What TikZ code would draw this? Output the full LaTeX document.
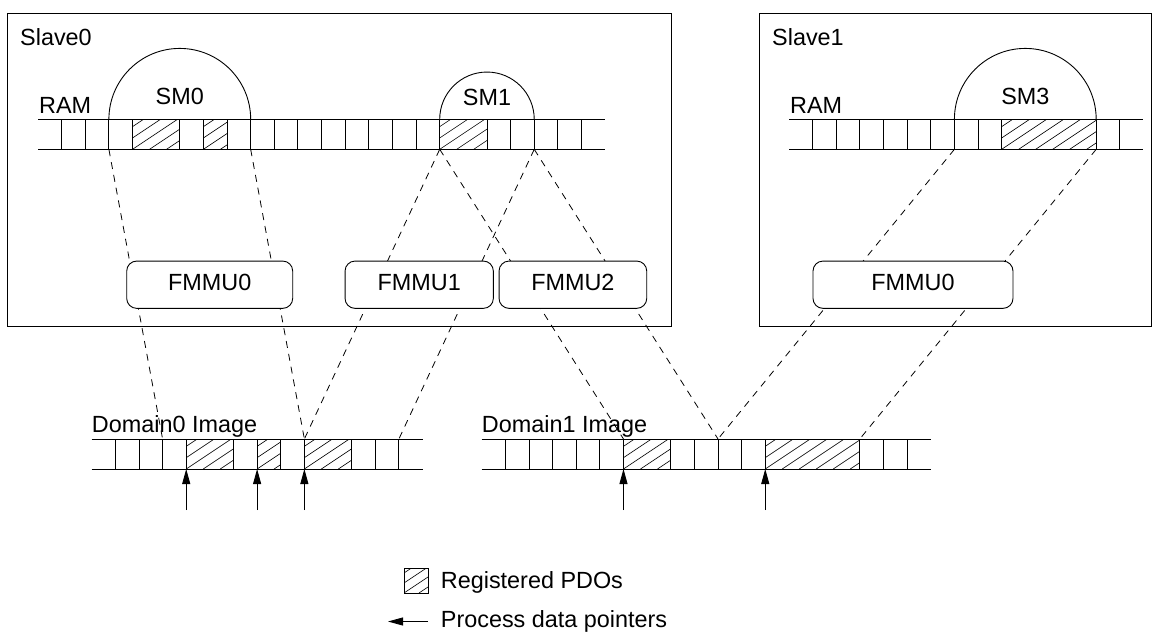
\documentclass[tikz,border=0pt]{standalone}
\usepackage{fontspec}
\setmainfont{Liberation Sans}
\usetikzlibrary{arrows.meta,calc}

% cell width and row height (1pt = one unit)
\pgfmathsetmacro\cw{23.63}
\def\rowh{30}
\pgfmathsetmacro\rbig{3*\cw}
\pgfmathsetmacro\rsmall{2*\cw}

% a row of memory cells: name, left x, top y, number of cells;
% defines coordinates <name>-<k>-t / <name>-<k>-b at every cell boundary
\newcommand\cellrow[4]{%
  \pgfmathtruncatemacro\lastk{#4-1}%
  \foreach \k in {0,...,#4}{%
    \coordinate (#1-\k-t) at ({#2+\k*\cw},#3);
    \coordinate (#1-\k-b) at ({#2+\k*\cw},{#3+\rowh});
  }%
  \draw[rowline] (#1-0-t) -- (#1-#4-t);
  \draw[rowline] (#1-0-b) -- (#1-#4-b);
  \foreach \k in {1,...,\lastk}{\draw[rowline] (#1-\k-t) -- (#1-\k-b);}%
}

% one hatched block spanning the cells between two boundaries of a row
\newcommand\hatchcells[3]{%
  \fill[white] (#1-#2-t) rectangle (#1-#3-b);
  \begin{scope}
    \clip (#1-#2-t) rectangle (#1-#3-b);
    \foreach \s in {-4,...,9}{\draw[hatchline] ($(#1-#2-b)+(\s*17,0)$) -- ++(60,-40);}
  \end{scope}%
  \draw[rowline] (#1-#2-t) rectangle (#1-#3-b);
}

\begin{document}
\begin{tikzpicture}[x=1pt,y=-1pt,
  font=\fontsize{23.4}{28}\selectfont,
  rowline/.style={line width=0.9pt},
  hatchline/.style={line width=0.6pt},
  frame/.style={line width=1pt},
  mapline/.style={line width=0.8pt, dash pattern=on 7pt off 6pt},
  fmmu/.style={draw, line width=0.9pt, rounded corners=10pt, fill=white,
    minimum height=47.3pt, text depth=4.8pt, inner sep=0pt},
  ptr/.style={line width=0.9pt, -{Triangle[length=15pt,width=8pt]}},
  lbl/.style={inner sep=0pt, anchor=base west},
  smlbl/.style={inner sep=0pt, anchor=base}]

\useasboundingbox (0,0) rectangle (1160,633);

% slave frames
\draw[frame] (7.5,13.5) rectangle (671,326);
\draw[frame] (759,13.5) rectangle (1151,326);
\node[lbl] (slave0) at (20,45.5) {Slave0};
\node[lbl] (slave1) at (772,45.5) {Slave1};

% slave RAM and domain images
\cellrow{r0}{38}{119.3}{24}
\cellrow{r1}{789}{119.3}{15}
\cellrow{d0}{91.7}{439}{14}
\cellrow{d1}{481.7}{439}{19}

\node[lbl] (ram0) at (39,113.5) {RAM};
\node[lbl] (ram1) at (790,113.5) {RAM};
\node[lbl] (dom0) at (91.7,432.7) {Domain0 Image};
\node[lbl] (dom1) at (481.7,432.7) {Domain1 Image};

% registered PDOs
\hatchcells{r0}{4}{6}
\hatchcells{r0}{7}{8}
\hatchcells{r0}{17}{19}
\hatchcells{r1}{9}{13}
\hatchcells{d0}{4}{6}
\hatchcells{d0}{7}{8}
\hatchcells{d0}{9}{11}
\hatchcells{d1}{6}{8}
\hatchcells{d1}{12}{16}

% sync managers
\draw[rowline] (r0-3-t) arc[start angle=180,end angle=360,radius=\rbig];
\draw[rowline] (r0-17-t) arc[start angle=180,end angle=360,radius=\rsmall];
\draw[rowline] (r1-7-t) arc[start angle=180,end angle=360,radius=\rbig];
\node[smlbl] (sm0) at (179.8,104) {SM0};
\node[smlbl] (sm1) at (487,105.5) {SM1};
\node[smlbl] (sm3) at (1025.3,104) {SM3};

% FMMU mappings from RAM to the domain images
\draw[mapline] (r0-3-b) -- (d0-3-t);
\draw[mapline] (r0-9-b) -- (d0-9-t);
\draw[mapline] (r0-17-b) -- (d0-9-t);
\draw[mapline] (r0-21-b) -- (d0-13-t);
\draw[mapline] (r0-17-b) -- (d1-6-t);
\draw[mapline] (r0-21-b) -- (d1-10-t);
\draw[mapline] (r1-7-b) -- (d1-10-t);
\draw[mapline] (r1-13-b) -- (d1-16-t);

% FMMUs
\node[fmmu, minimum width=166pt] (fmmu00) at (209.7,284.7) {FMMU0};
\node[fmmu, minimum width=148.3pt] (fmmu01) at (419.2,284.7) {FMMU1};
\node[fmmu, minimum width=147.7pt] (fmmu02) at (572.9,284.7) {FMMU2};
\node[fmmu, minimum width=200pt] (fmmu10) at (913,284.7) {FMMU0};

% process data pointers
\coordinate (pa) at ($(d0-4-b)+(0,41)$);
\coordinate (pb) at ($(d0-7-b)+(0,41)$);
\coordinate (pc) at ($(d0-9-b)+(0,41)$);
\coordinate (pd) at ($(d1-6-b)+(0,41)$);
\coordinate (pe) at ($(d1-12-b)+(0,41)$);
\draw[ptr] (pa) -- (d0-4-b);
\draw[ptr] (pb) -- (d0-7-b);
\draw[ptr] (pc) -- (d0-9-b);
\draw[ptr] (pd) -- (d1-6-b);
\draw[ptr] (pe) -- (d1-12-b);

% legend
\node[draw, line width=0.9pt, minimum width=24pt, minimum height=25pt, inner sep=0pt,
  path picture={\foreach \s in {-4,...,3}{\draw[hatchline]
    ($(path picture bounding box.south west)+(\s*15,0)$) -- ++(60,-40);}}]
  (legbox) at (416,580.5) {};
\node[lbl] (legpdo) at (440.7,588) {Registered PDOs};
\coordinate (legtail) at (428,621.5);
\coordinate (leghead) at (388,621.5);
\draw[ptr] (legtail) -- (leghead);
\node[lbl] (legptr) at (440.7,627) {Process data pointers};
\end{tikzpicture}
\end{document}
